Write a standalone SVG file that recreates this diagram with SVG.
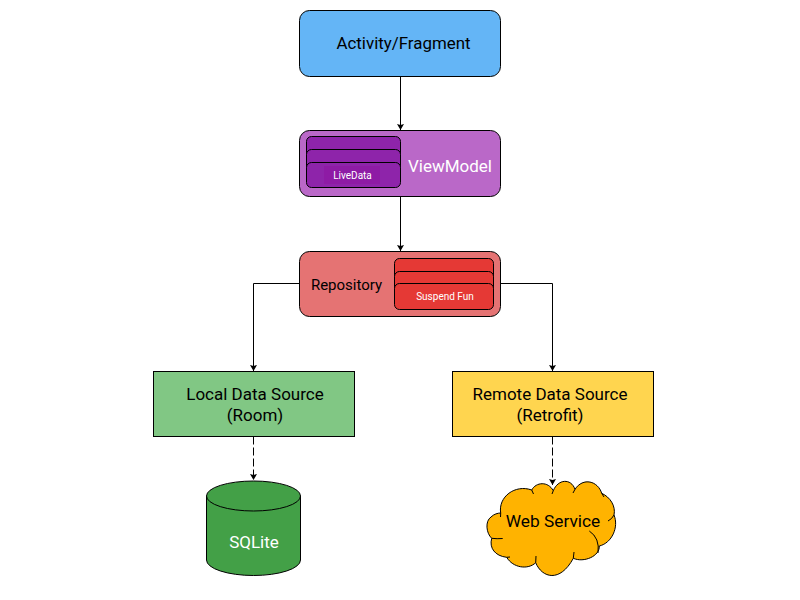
<svg xmlns="http://www.w3.org/2000/svg" width="800" height="600" viewBox="0 0 800 600">
<style>
text{font-family:Roboto,"Liberation Sans",sans-serif;text-anchor:middle;fill:#000}
.w{fill:#fff}
.s{stroke:#000;stroke-width:1}
.c{fill:none;stroke:#000;stroke-width:1}
.d{stroke-dasharray:8 3}
</style>
<defs>
<marker id="a" markerUnits="userSpaceOnUse" markerWidth="8" markerHeight="8" refX="6" refY="3.500" orient="auto"><path d="M0 0L6 3.500L0 7L1 3.500Z" fill="#000"/></marker>
</defs>
<g id="connectors">
<path class="c" d="M400.500 76.500V130" marker-end="url(#a)"/>
<path class="c" d="M400.500 196.500V251" marker-end="url(#a)"/>
<path class="c" d="M299.500 283.500H253.500V371" marker-end="url(#a)"/>
<path class="c" d="M500.500 283.500H552.500V371" marker-end="url(#a)"/>
<path class="c d" d="M253.500 436.500V480" marker-end="url(#a)"/>
<path class="c d" d="M552.500 436.500V485" marker-end="url(#a)"/>
</g>
<g id="activity">
<rect class="s" x="299.500" y="10.500" width="201" height="66" rx="10" fill="#64b5f6"/>
<text x="403.500" y="49" font-size="16.900">Activity/Fragment</text>
</g>
<g id="viewmodel">
<rect class="s" x="299.500" y="130.500" width="201" height="66" rx="10" fill="#ba68c8"/>
<rect class="s" x="306.500" y="136.500" width="94" height="25" rx="5" fill="#8e24aa"/>
<rect class="s" x="306.500" y="149.500" width="94" height="25" rx="5" fill="#8e24aa"/>
<rect class="s" x="306.500" y="162.500" width="94" height="25" rx="5" fill="#8e24aa"/>
<rect x="324" y="166" width="56" height="18" fill="#8e1ba5"/>
<text class="w" x="352.500" y="179" font-size="10">LiveData</text>
<text class="w" x="450" y="172" font-size="17">ViewModel</text>
</g>
<g id="repository">
<rect class="s" x="299.500" y="251.500" width="201" height="65" rx="10" fill="#e57373"/>
<rect class="s" x="394.500" y="258.500" width="99" height="25" rx="5" fill="#e53935"/>
<rect class="s" x="394.500" y="271.500" width="99" height="25" rx="5" fill="#e53935"/>
<rect class="s" x="394.500" y="283.500" width="99" height="26" rx="5" fill="#e53935"/>
<text class="w" x="445" y="300" font-size="10">Suspend Fun</text>
<text x="346.500" y="290" font-size="15">Repository</text>
</g>
<g id="local">
<rect class="s" x="153.500" y="371.500" width="201" height="65" fill="#81c784"/>
<text x="255" y="400" font-size="17">Local Data Source</text>
<text x="255" y="421" font-size="17">(Room)</text>
</g>
<g id="remote">
<rect class="s" x="452.500" y="371.500" width="201" height="65" fill="#ffd54f"/>
<text x="550" y="400" font-size="17">Remote Data Source</text>
<text x="550" y="421" font-size="17">(Retrofit)</text>
</g>
<g id="sqlite">
<path class="s" d="M206.500 496V560A47 15.500 0 0 0 300.500 560V496Z" fill="#43a047"/>
<ellipse class="s" cx="253.500" cy="496" rx="47" ry="15" fill="#43a047"/>
<text class="w" x="254" y="548" font-size="17">SQLite</text>
</g>
<g id="webservice">
<path class="s" fill="#ffb300" d="M500.700 513C498 497 515 484 531.700 490C536 482 548 481 553.300 490.700C558 479 571 478 575 489.300C583 477 598 481 601.700 493.300C610 497 616 506 614 515C619 527 612 543 599.300 546C600 556 584 563 573.300 558.300C560 583 542 578 535.700 562.700C528 570 513 568 506.700 557.300C495 556 489 548 491.700 538.300C486 533 485 521 491 517C494 514 498 513 500.700 513Z"/>
<path class="c" d="M491.700 538.300Q497 539 502.700 538.500M589.300 531Q600 538 598 553M614 515Q612 519 608 521M531.700 490L533.500 494M553.300 490.700L552 494M575 489.300L573 493M601.700 493.300L604 497M573.300 558.300L574 552M535.700 562.700L536 556M506.700 557.300L510 557M500.700 513L500.500 517"/>
<text x="553" y="527" font-size="17.300">Web Service</text>
</g>
</svg>
